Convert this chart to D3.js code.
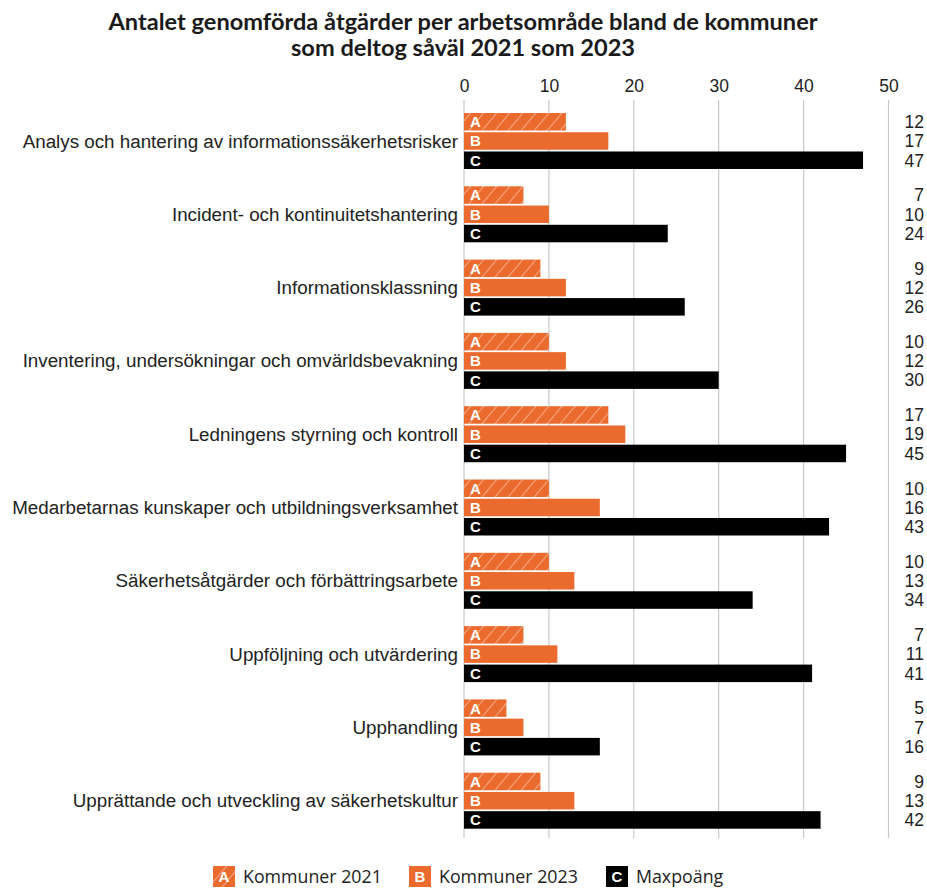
<!DOCTYPE html>
<html>
<head>
<meta charset="utf-8">
<script src="https://cdn.jsdelivr.net/npm/d3@7"></script>
<style>
  html, body { margin: 0; padding: 0; background: #fff; }
  svg { display: block; }
</style>
</head>
<body>
<svg id="chart" width="927" height="889"></svg>
<script>
// Arbetsområden (kategorier)
const categories = [
  "Analys och hantering av informationssäkerhetsrisker",
  "Incident- och kontinuitetshantering",
  "Informationsklassning",
  "Inventering, undersökningar och omvärldsbevakning",
  "Ledningens styrning och kontroll",
  "Medarbetarnas kunskaper och utbildningsverksamhet",
  "Säkerhetsåtgärder och förbättringsarbete",
  "Uppföljning och utvärdering",
  "Upphandling",
  "Upprättande och utveckling av säkerhetskultur"
];

// Serier
const seriesKeys = ["A", "B", "C"];
const seriesNames = ["Kommuner 2021", "Kommuner 2023", "Maxpoäng"];
const kommuner2021 = [12, 7, 9, 10, 17, 10, 10, 7, 5, 9];
const kommuner2023 = [17, 10, 12, 12, 19, 16, 13, 11, 7, 13];
const maxpoang     = [47, 24, 26, 30, 45, 43, 34, 41, 16, 42];

const xTicks = [0, 10, 20, 30, 40, 50];

const title = [
  "Antalet genomförda åtgärder per arbetsområde bland de kommuner",
  "som deltog såväl 2021 som 2023"
];

const ORANGE = "#EB6A2D";
const BLACK = "#000000";

const seriesValues = [kommuner2021, kommuner2023, maxpoang];
const rows = categories.map((c, i) => ({
  category: c,
  values: seriesKeys.map((k, j) => ({ key: k, value: seriesValues[j][i] }))
}));

const svg = d3.select("#chart");

// Diagonal hatch pattern for 2021 bars
const defs = svg.append("defs");
const pat = defs.append("pattern")
  .attr("id", "hatch")
  .attr("patternUnits", "userSpaceOnUse")
  .attr("width", 10)
  .attr("height", 10)
  .attr("patternTransform", "rotate(40)");
pat.append("rect").attr("width", 10).attr("height", 10).attr("fill", ORANGE);
pat.append("line")
  .attr("x1", 0).attr("y1", 0).attr("x2", 0).attr("y2", 10)
  .attr("stroke", "#f7d2bd").attr("stroke-width", 1.3);

const fills = { A: "url(#hatch)", B: ORANGE, C: BLACK };

// Scales
const x = d3.scaleLinear().domain([0, 50]).range([464, 888.5]);
const y0 = d3.scaleBand()
  .domain(categories)
  .range([104.35, 837.35])
  .paddingInner(0.236)
  .paddingOuter(0.118);
const y1 = d3.scaleBand()
  .domain(seriesKeys)
  .range([0, y0.bandwidth()])
  .paddingInner(0.09);

// Title
svg.append("text")
  .attr("x", 463)
  .attr("y", 0)
  .attr("text-anchor", "middle")
  .attr("font-family", "Lato, 'DejaVu Sans', sans-serif")
  .attr("font-weight", "bold")
  .attr("font-size", 23.6)
  .attr("fill", "#1a1a1a")
  .selectAll("tspan")
  .data(title)
  .join("tspan")
  .attr("x", 463)
  .attr("y", (d, i) => 30 + i * 26)
  .text(d => d);

// Vertical grid lines
svg.append("g")
  .selectAll("line")
  .data(xTicks)
  .join("line")
  .attr("x1", d => x(d)).attr("x2", d => x(d))
  .attr("y1", 100).attr("y2", 838)
  .attr("stroke", "#c8c8c8")
  .attr("stroke-width", 1.2);

// Top axis
const xAxis = d3.axisTop(x).tickValues(xTicks).tickSize(0).tickPadding(0);
const axisG = svg.append("g")
  .attr("transform", "translate(0,92)")
  .call(xAxis);
axisG.select(".domain").remove();
axisG.selectAll("text")
  .attr("font-family", "'Liberation Sans', Arial, sans-serif")
  .attr("font-size", 17.5)
  .attr("fill", "#222");

// Category labels
svg.append("g")
  .selectAll("text")
  .data(categories)
  .join("text")
  .attr("x", 458)
  .attr("y", d => y0(d) + y0.bandwidth() / 2)
  .attr("dy", "0.35em")
  .attr("text-anchor", "end")
  .attr("font-family", "'Liberation Sans', Arial, sans-serif")
  .attr("font-size", 18.8)
  .attr("fill", "#222")
  .text(d => d);

// Bars
const groups = svg.append("g")
  .selectAll("g")
  .data(rows)
  .join("g")
  .attr("transform", d => `translate(0,${y0(d.category)})`);

groups.selectAll("rect")
  .data(d => d.values)
  .join("rect")
  .attr("x", x(0))
  .attr("y", d => y1(d.key))
  .attr("width", d => x(d.value) - x(0))
  .attr("height", y1.bandwidth())
  .attr("fill", d => fills[d.key]);

groups.selectAll("text.letter")
  .data(d => d.values)
  .join("text")
  .attr("class", "letter")
  .attr("x", x(0) + 6)
  .attr("y", d => y1(d.key) + y1.bandwidth() / 2)
  .attr("dy", "0.36em")
  .attr("font-family", "'Liberation Sans', Arial, sans-serif")
  .attr("font-weight", "bold")
  .attr("font-size", 15)
  .attr("fill", "#fff")
  .text(d => d.key);

// Value column on the right
groups.selectAll("text.val")
  .data(d => d.values)
  .join("text")
  .attr("class", "val")
  .attr("x", 924)
  .attr("y", d => y1(d.key) + y1.bandwidth() / 2)
  .attr("dy", "0.36em")
  .attr("text-anchor", "end")
  .attr("font-family", "'Liberation Sans', Arial, sans-serif")
  .attr("font-size", 17.5)
  .attr("fill", "#222")
  .text(d => d.value);

// Legend
const legendX = [213, 409, 606];
const legend = svg.append("g")
  .selectAll("g")
  .data(seriesKeys)
  .join("g")
  .attr("transform", (d, i) => `translate(${legendX[i]},866)`);
legend.append("rect")
  .attr("width", 22).attr("height", 21)
  .attr("fill", d => fills[d]);
legend.append("text")
  .attr("x", 11).attr("y", 10.5).attr("dy", "0.36em")
  .attr("text-anchor", "middle")
  .attr("font-family", "'Liberation Sans', Arial, sans-serif")
  .attr("font-weight", "bold")
  .attr("font-size", 15)
  .attr("fill", "#fff")
  .text(d => d);
legend.append("text")
  .attr("x", 30).attr("y", 10.5).attr("dy", "0.36em")
  .attr("font-family", "'Open Sans', 'Noto Sans', sans-serif")
  .attr("font-size", 17.8)
  .attr("fill", "#222")
  .text((d, i) => seriesNames[i]);
</script>
</body>
</html>
